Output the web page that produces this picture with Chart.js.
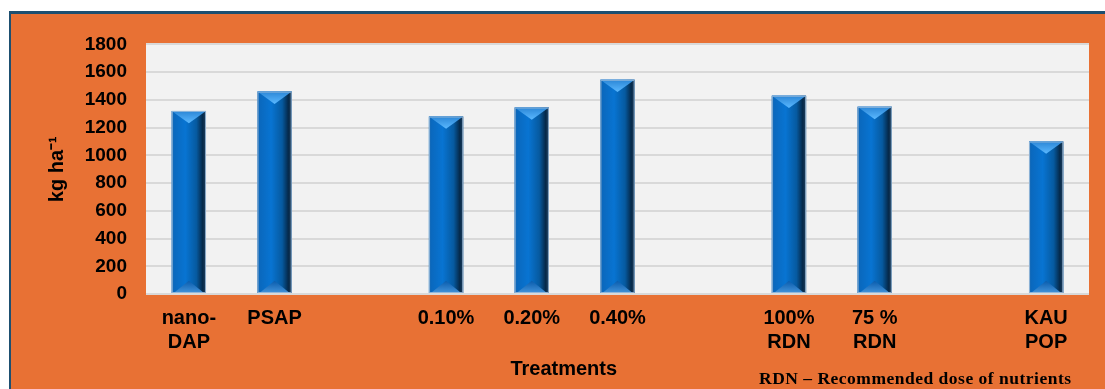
<!DOCTYPE html>
<html>
<head>
<meta charset="utf-8">
<script src="https://cdn.jsdelivr.net/npm/chart.js@4.4.1/dist/chart.umd.min.js"></script>
<style>
  html, body { margin: 0; padding: 0; background: #ffffff; width: 1105px; height: 389px; overflow: hidden; }
  #frame { position: absolute; left: 9px; top: 11px; width: 1096px; height: 378px; background: #1d4f70; }
  #inner { position: absolute; left: 2px; top: 3px; width: 1094px; height: 375px; background: #E87134; }
  canvas { display: block; }
</style>
</head>
<body>
<div id="frame"><div id="inner"><canvas id="c" width="1094" height="375"></canvas></div></div>
<script>
// ---- data ----
const categories = [['nano-', 'DAP'], 'PSAP', '', '0.10%', '0.20%', '0.40%', '', ['100%', 'RDN'], ['75 %', 'RDN'], '', ['KAU', 'POP']];
const yieldValues = [1320, 1460, null, 1280, 1345, 1545, null, 1430, 1350, null, 1100];
const yMin = 0;
const yMax = 1800;
const yStep = 200;
const yAxisTitle = 'kg ha\u207B\u00B9';
const xAxisTitle = 'Treatments';
const footNote = 'RDN \u2013 Recommended dose of nutrients';

const bar3d = {
  id: 'bar3d',
  afterDatasetsDraw(chart) {
    const ctx = chart.ctx;
    const meta = chart.getDatasetMeta(0);
    meta.data.forEach((bar, i) => {
      if (yieldValues[i] == null) return;
      const p = bar.getProps(['x', 'y', 'base', 'width'], true);
      const l = p.x - p.width / 2, r = p.x + p.width / 2, t = p.y, b = p.base, w = p.width;
      ctx.save();
      const g = ctx.createLinearGradient(l, 0, r, 0);
      g.addColorStop(0, '#2a6fb0');
      g.addColorStop(0.06, '#0a68bd');
      g.addColorStop(0.4, '#0874d2');
      g.addColorStop(0.72, '#065aa0');
      g.addColorStop(0.9, '#05294a');
      g.addColorStop(1, '#22415e');
      ctx.fillStyle = g;
      ctx.fillRect(l, t, w, b - t);
      // top bevel
      const d = w * 0.36;
      const g2 = ctx.createLinearGradient(0, t, 0, t + d);
      g2.addColorStop(0, '#2b86d6');
      g2.addColorStop(1, '#5ab8ff');
      ctx.beginPath();
      ctx.moveTo(l, t); ctx.lineTo(r, t); ctx.lineTo(p.x, t + d); ctx.closePath();
      ctx.fillStyle = g2; ctx.fill();
      // bottom bevel
      const g3 = ctx.createLinearGradient(0, b - d, 0, b);
      g3.addColorStop(0, 'rgba(10,90,170,0.9)');
      g3.addColorStop(1, 'rgba(70,150,220,0.95)');
      ctx.beginPath();
      ctx.moveTo(l + 2, b); ctx.lineTo(r - 2, b); ctx.lineTo(p.x, b - d); ctx.closePath();
      ctx.fillStyle = g3; ctx.fill();
      ctx.strokeStyle = 'rgba(160,190,220,0.85)';
      ctx.lineWidth = 1;
      ctx.strokeRect(l + 0.5, t + 0.5, w - 1, b - t - 1);
      ctx.restore();
    });
  }
};

const notes = {
  id: 'notes',
  afterDraw(chart) {
    const ctx = chart.ctx;
    const area = chart.chartArea;
    ctx.save();
    ctx.fillStyle = '#000000';
    ctx.textAlign = 'center';
    ctx.textBaseline = 'alphabetic';
    ctx.font = 'bold 20px "Liberation Sans", Arial, sans-serif';
    ctx.fillText(xAxisTitle, area.left + (area.right - area.left) * 0.443, 361);
    ctx.textAlign = 'left';
    ctx.font = 'bold 17.5px "Liberation Serif", "Times New Roman", serif';
    if ('letterSpacing' in ctx) ctx.letterSpacing = '0.5px';
    ctx.fillText(footNote, 748, 370);
    ctx.restore();
  }
};

new Chart(document.getElementById('c'), {
  type: 'bar',
  data: {
    labels: categories,
    datasets: [{
      data: yieldValues,
      backgroundColor: '#0872d0',
      barPercentage: 0.4,
      categoryPercentage: 1.0
    }]
  },
  options: {
    responsive: false,
    animation: false,
    events: [],
    layout: { padding: { left: 30, right: 16, top: 29, bottom: 0 } },
    plugins: { legend: { display: false }, tooltip: { enabled: false } },
    scales: {
      x: {
        grid: { display: false, drawTicks: false },
        border: { display: false },
        ticks: {
          color: '#000000',
          padding: 12,
          maxRotation: 0,
          autoSkip: false,
          font: { family: '"Liberation Sans", Arial, sans-serif', size: 20, weight: 'bold', lineHeight: 1.2 }
        },
        afterFit(scale) { scale.height = 95; }
      },
      y: {
        min: yMin,
        max: yMax,
        grid: { color: '#D9D9D9', lineWidth: 2, drawTicks: false },
        border: { display: false },
        ticks: {
          stepSize: yStep,
          color: '#000000',
          padding: 19,
          callback: (v) => String(v),
          font: { family: '"Liberation Sans", Arial, sans-serif', size: 19, weight: 'bold' }
        },
        title: {
          display: true,
          text: yAxisTitle,
          color: '#000000',
          font: { family: '"Liberation Sans", Arial, sans-serif', size: 20, weight: 'bold' }
        },
        afterFit(scale) { scale.width = 105; }
      }
    }
  },
  plugins: [{
    id: 'plotBg',
    beforeDraw(chart) {
      const { ctx, chartArea: a } = chart;
      ctx.save();
      ctx.fillStyle = '#F2F2F2';
      ctx.fillRect(a.left, a.top, a.right - a.left, a.bottom - a.top);
      ctx.restore();
    }
  }, bar3d, notes]
});
</script>
</body>
</html>
